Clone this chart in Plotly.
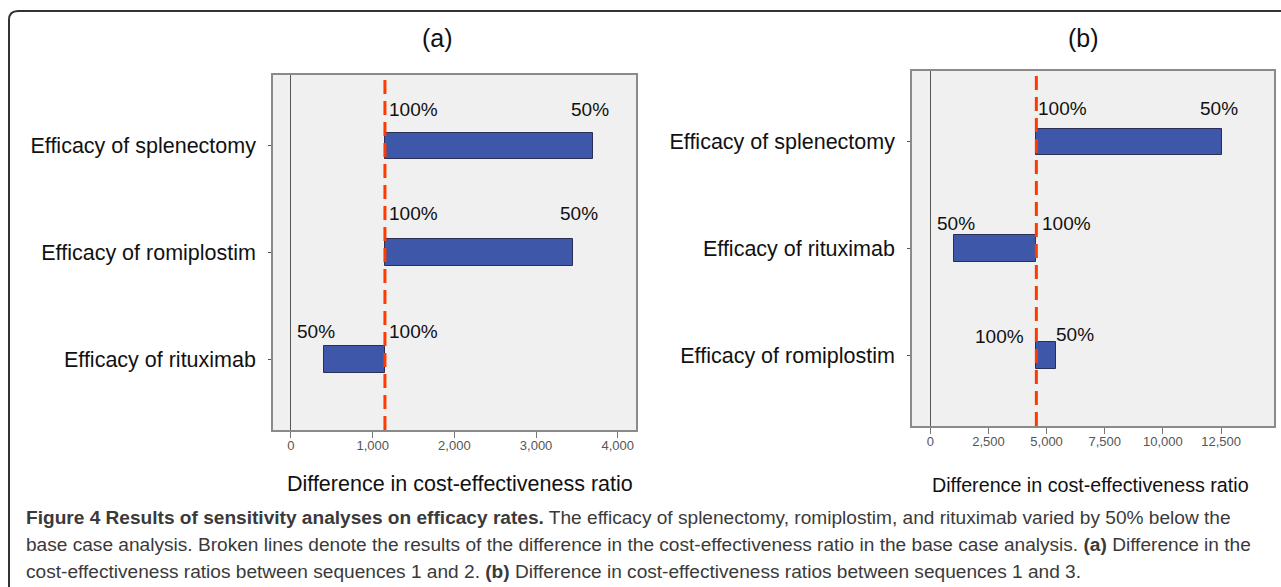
import plotly.graph_objects as go

# ---------------- data ----------------
a_categories = ["Efficacy of splenectomy", "Efficacy of romiplostim", "Efficacy of rituximab"]
a_base_case = 1150            # ratio at 100% efficacy (dashed line)
a_at_50 = [3700, 3450, 400]   # ratio at 50% efficacy
a_ticks = [0, 1000, 2000, 3000, 4000]

b_categories = ["Efficacy of splenectomy", "Efficacy of rituximab", "Efficacy of romiplostim"]
b_base_case = 4560
b_at_50 = [12530, 1040, 5400]
b_ticks = [0, 2500, 5000, 7500, 10000, 12500]

label_hi = "100%"
label_lo = "50%"
panel_titles = ["(a)", "(b)"]
x_title = "Difference in cost-effectiveness ratio"
caption_lines = [
    "<b>Figure 4 Results of sensitivity analyses on efficacy rates.</b> The efficacy of splenectomy, romiplostim, and rituximab varied by 50% below the",
    "base case analysis. Broken lines denote the results of the difference in the cost-effectiveness ratio in the base case analysis. <b>(a)</b> Difference in the",
    "cost-effectiveness ratios between sequences 1 and 2. <b>(b)</b> Difference in cost-effectiveness ratios between sequences 1 and 3.",
]

# ---------------- styles ----------------
W, H = 1281, 587
FONT = "Arial, Liberation Sans, sans-serif"
BAR_COLOR = "#3f57a8"
DASH_COLOR = "#ff3a00"

def px(x):
    return x / W

def py(y):
    return 1 - y / H

# (xanchor/xshift/yshift) for 100% label and 50% label per bar
a_label_style = [
    (("left", 2, 36), ("center", -3, 36)),
    (("left", 2, 39), ("center", 6, 39)),
    (("left", 2, 28), ("center", -8, 28)),
]
b_label_style = [
    (("left", 0, 33), ("center", -3, 33)),
    (("left", 4, 25), ("center", 2, 25)),
    (("right", -10, 19), ("left", -2, 21)),
]

fig = go.Figure()

panels = [
    dict(cats=a_categories, base=a_base_case, vals=a_at_50, ticks=a_ticks, style=a_label_style,
         xa="x", ya="y", xr=[-220, 4223],
         dom_x=[px(273), px(636)], dom_y=[py(430), py(75)],
         title_xy=(437, 38), xtitle_xy=(460, 484), xtitle_size=21.5),
    dict(cats=b_categories, base=b_base_case, vals=b_at_50, ticks=b_ticks, style=b_label_style,
         xa="x2", ya="y2", xr=[-786, 14777],
         dom_x=[px(912), px(1274)], dom_y=[py(426), py(71)],
         title_xy=(1083, 38), xtitle_xy=(1090, 485), xtitle_size=19.7),
]

annotations = []
shapes = []

for i, p in enumerate(panels):
    starts = [min(p["base"], v) for v in p["vals"]]
    lengths = [abs(v - p["base"]) for v in p["vals"]]
    fig.add_trace(go.Bar(
        y=p["cats"], x=lengths, base=starts, orientation="h", width=0.25,
        marker=dict(color=BAR_COLOR, line=dict(color="#2b2f55", width=1)),
        xaxis=p["xa"], yaxis=p["ya"], showlegend=False, hoverinfo="skip",
    ))
    # dashed base-case line
    shapes.append(dict(
        type="line", xref=p["xa"], yref=f"{p['ya']} domain",
        x0=p["base"], x1=p["base"], y0=0, y1=1,
        line=dict(color=DASH_COLOR, width=3, dash="14px,7px"), layer="above",
    ))
    # bar labels
    for cat, v, (hi, lo) in zip(p["cats"], p["vals"], p["style"]):
        for txt, xv, (anc, xs, ys) in ((label_hi, p["base"], hi), (label_lo, v, lo)):
            annotations.append(dict(
                x=xv, y=cat, xref=p["xa"], yref=p["ya"], text=txt, showarrow=False,
                xanchor=anc, yanchor="middle", xshift=xs, yshift=ys,
                font=dict(family=FONT, size=19, color="#111"),
            ))
    # panel title
    tx, ty = p["title_xy"]
    annotations.append(dict(
        x=px(tx), y=py(ty), xref="paper", yref="paper", text=panel_titles[i],
        showarrow=False, xanchor="center", yanchor="middle",
        font=dict(family=FONT, size=25, color="#111"),
    ))
    # x title
    tx, ty = p["xtitle_xy"]
    annotations.append(dict(
        x=px(tx), y=py(ty), xref="paper", yref="paper", text=x_title,
        showarrow=False, xanchor="center", yanchor="middle",
        font=dict(family=FONT, size=p["xtitle_size"], color="#111"),
    ))

    xkey = "xaxis" if i == 0 else "xaxis2"
    ykey = "yaxis" if i == 0 else "yaxis2"
    fig.update_layout(**{
        xkey: dict(
            domain=p["dom_x"], range=p["xr"], anchor=p["ya"],
            tickvals=p["ticks"], tickformat=",", ticks="outside", ticklen=6,
            tickcolor="#777", tickwidth=1, ticklabelstandoff=-3,
            tickfont=dict(family=FONT, size=13, color="#555"),
            showline=True, linecolor="#8a8a8a", linewidth=1.5, mirror=True,
            showgrid=False, zeroline=True, zerolinecolor="#555", zerolinewidth=1,
            fixedrange=True, automargin=False,
        ),
        ykey: dict(
            domain=p["dom_y"], type="category", categoryarray=p["cats"],
            categoryorder="array", range=[2.664, -0.664], anchor=p["xa"],
            ticks="outside", ticklen=3, tickcolor="#555", tickwidth=1,
            ticklabelstandoff=8,
            tickfont=dict(family=FONT, size=21.5, color="#111"),
            showline=True, linecolor="#8a8a8a", linewidth=1.5, mirror=True,
            showgrid=False, zeroline=False, fixedrange=True, automargin=False,
        ),
    })

# captions
for k, line in enumerate(caption_lines):
    annotations.append(dict(
        x=px(24), y=py(517 + 27 * k), xref="paper", yref="paper", text=line,
        showarrow=False, xanchor="left", yanchor="middle",
        font=dict(family="Liberation Sans, Arial, sans-serif", size=19.1, color="#3a3a3a"),
    ))

# rounded outer frame (extends past right and bottom edges)
r = 9
frame = (f"M {px(9)},{py(600)} L {px(9)},{py(11 + r)} "
         f"Q {px(9)},{py(11)} {px(9 + r)},{py(11)} L {px(1300)},{py(11)}")
shapes.append(dict(type="path", xref="paper", yref="paper", path=frame,
                   line=dict(color="#333", width=2)))

fig.update_layout(
    width=W, height=H, margin=dict(l=0, r=0, t=0, b=0),
    paper_bgcolor="white", plot_bgcolor="#f0f0f0",
    annotations=annotations, shapes=shapes, bargap=0,
    font=dict(family=FONT),
)

fig.write_html(
    "out.html",
    config={"displayModeBar": False},
    post_script="document.body.style.margin='0px';document.body.style.overflow='hidden';",
)
